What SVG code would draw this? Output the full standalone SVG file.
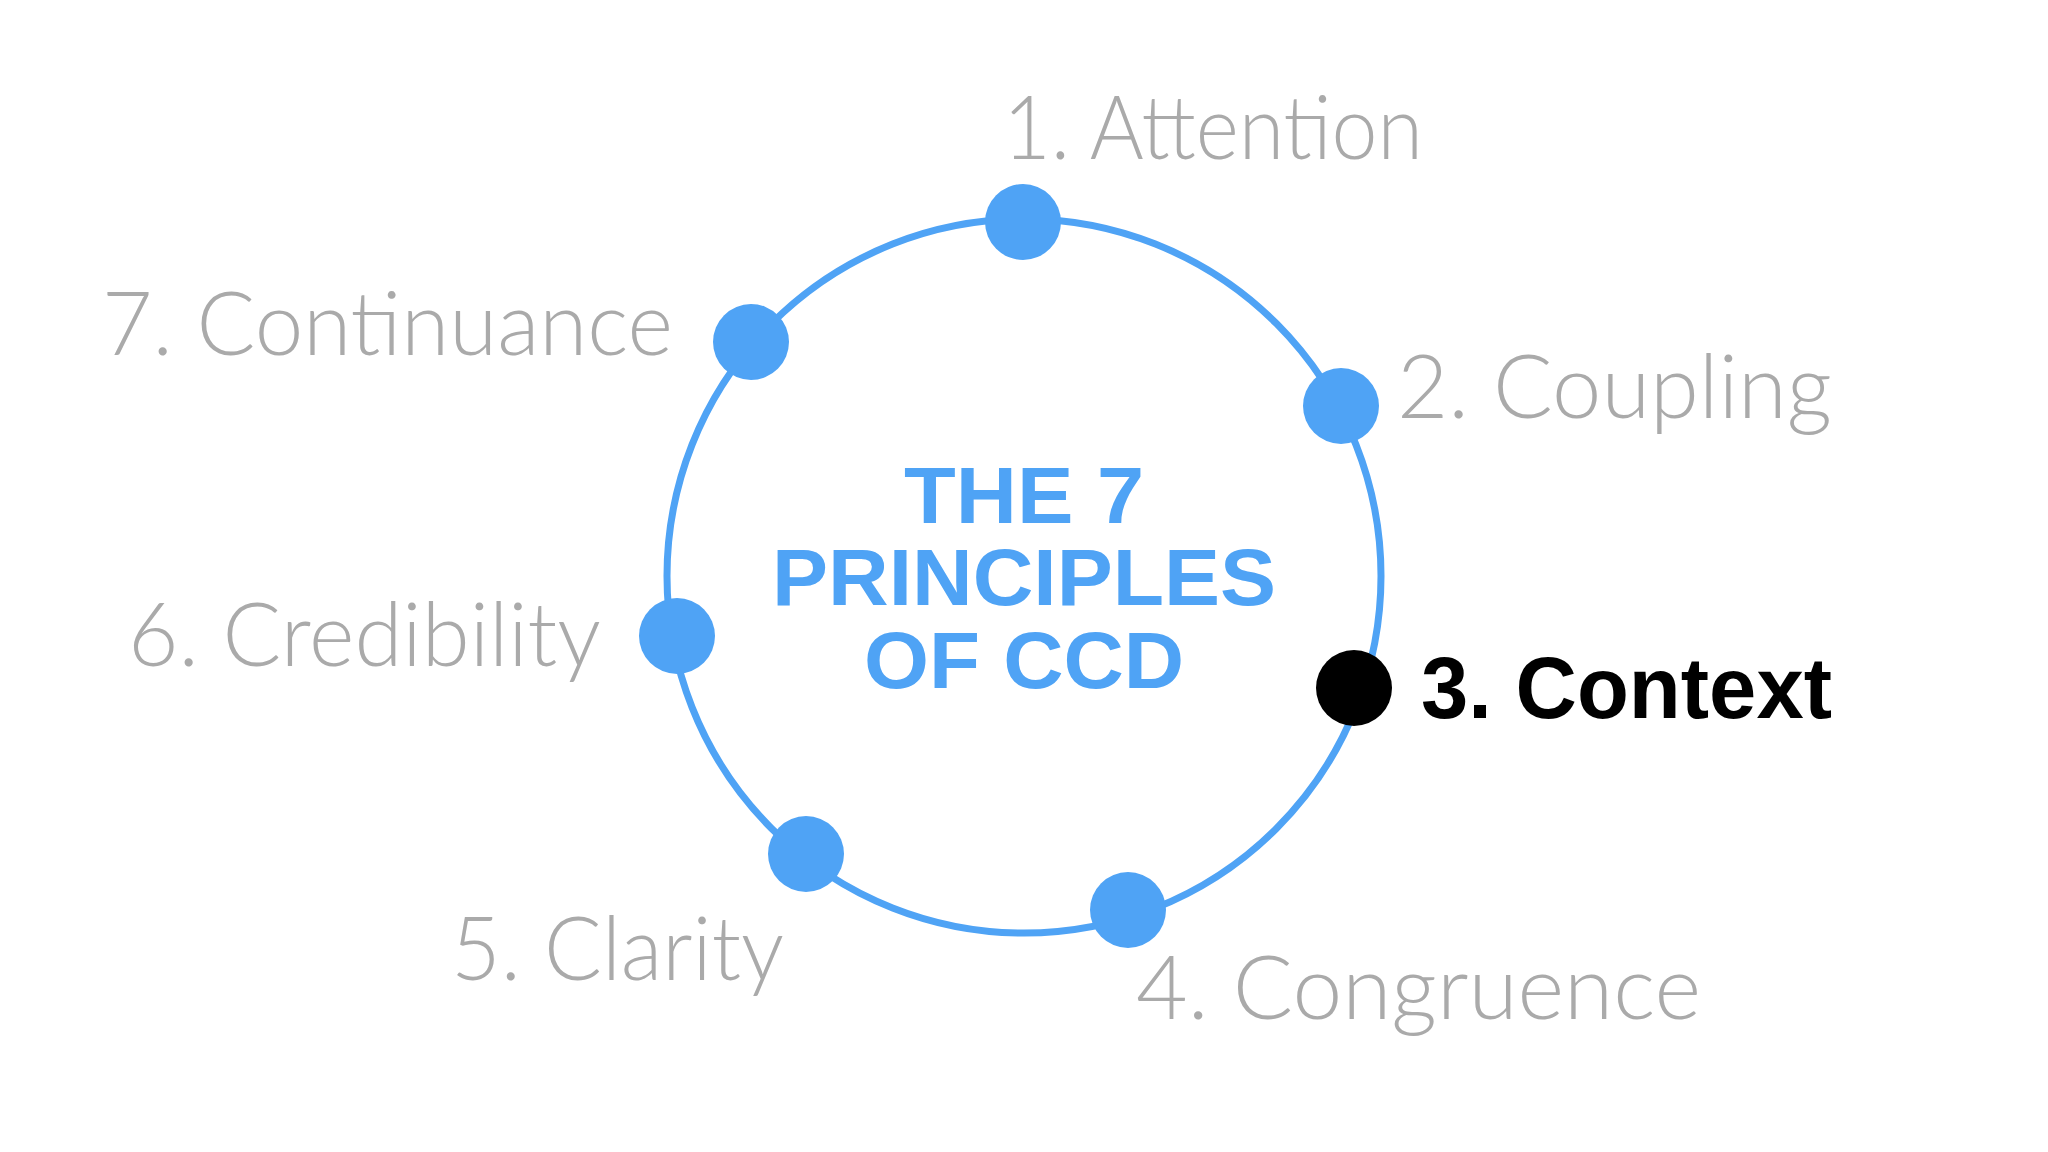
<svg xmlns="http://www.w3.org/2000/svg" width="2048" height="1152" viewBox="0 0 2048 1152">
<style>
.lbl{font-family:"Lato","Liberation Sans",Arial,sans-serif;font-size:88px;fill:#aaaaaa;font-weight:300}
.act{font-family:"Liberation Sans",Arial,sans-serif;font-size:88px;fill:#000;font-weight:bold}
.ttl{font-family:"Liberation Sans",Arial,sans-serif;font-size:80px;fill:#4fa3f5;font-weight:bold;text-anchor:middle}
.dot{fill:#4fa3f5}
</style>
<rect width="2048" height="1152" fill="#fff"/>
<g id="connectors"><circle cx="1024" cy="576" r="357" fill="none" stroke="#4fa3f5" stroke-width="7"/></g>
<g id="title">
<text class="ttl" x="1024" y="523" textLength="240" lengthAdjust="spacingAndGlyphs">THE 7</text>
<text class="ttl" x="1024" y="605" textLength="504" lengthAdjust="spacingAndGlyphs">PRINCIPLES</text>
<text class="ttl" x="1024" y="688" textLength="320" lengthAdjust="spacingAndGlyphs">OF CCD</text>
</g>
<g id="n1"><circle class="dot" cx="1023" cy="222" r="38"/><text class="lbl" x="1003" y="159" textLength="420" lengthAdjust="spacingAndGlyphs">1. Attention</text></g>
<g id="n2"><circle class="dot" cx="1341" cy="406" r="38"/><text class="lbl" x="1397" y="418" textLength="435" lengthAdjust="spacingAndGlyphs">2. Coupling</text></g>
<g id="n3"><circle cx="1354" cy="688" r="38" fill="#000"/><text class="act" x="1421" y="718" textLength="411" lengthAdjust="spacingAndGlyphs">3. Context</text></g>
<g id="n4"><circle class="dot" cx="1128" cy="910" r="38"/><text class="lbl" x="1136" y="1019" textLength="565" lengthAdjust="spacingAndGlyphs">4. Congruence</text></g>
<g id="n5"><circle class="dot" cx="806" cy="854" r="38"/><text class="lbl" x="451" y="980" textLength="333" lengthAdjust="spacingAndGlyphs">5. Clarity</text></g>
<g id="n6"><circle class="dot" cx="677" cy="636" r="38"/><text class="lbl" x="128" y="666" textLength="473" lengthAdjust="spacingAndGlyphs">6. Credibility</text></g>
<g id="n7"><circle class="dot" cx="751" cy="342" r="38"/><text class="lbl" x="102" y="355" textLength="571" lengthAdjust="spacingAndGlyphs">7. Continuance</text></g>
</svg>
